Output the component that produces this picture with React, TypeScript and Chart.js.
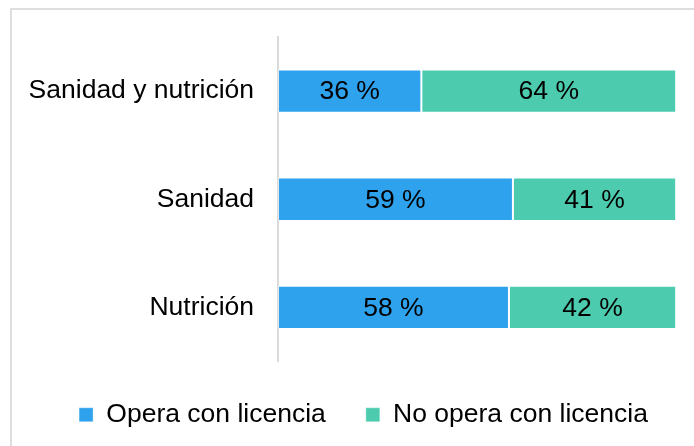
import React, { useEffect, useRef } from "react";
import { Chart, registerables } from "chart.js";

Chart.register(...registerables);

const categories = ["Sanidad y nutrición", "Sanidad", "Nutrición"];
const seriesNames = ["Opera con licencia", "No opera con licencia"];
const operaConLicencia = [36, 59, 58];
const noOperaConLicencia = [64, 41, 42];
const seriesColors = ["#2EA2ED", "#4DCBAE"];

const FONT = '"Liberation Sans", Arial, Helvetica, sans-serif';

const valueLabels = {
  id: "valueLabels",
  afterDatasetsDraw(chart: any) {
    const ctx = chart.ctx;
    ctx.save();
    ctx.font = `26.5px ${FONT}`;
    ctx.fillStyle = "#000000";
    ctx.textAlign = "center";
    ctx.textBaseline = "middle";
    chart.data.datasets.forEach((ds: any, di: number) => {
      const meta = chart.getDatasetMeta(di);
      meta.data.forEach((el: any, i: number) => {
        const p = el.getProps(["x", "y", "base"], true);
        const cx = (p.x + p.base) / 2;
        ctx.fillText(`${ds.data[i]} %`, cx, p.y + 1);
      });
    });
    ctx.restore();
  },
};

export default function App() {
  const ref = useRef<HTMLCanvasElement | null>(null);

  useEffect(() => {
    if (!ref.current) return;
    const chart = new Chart(ref.current, {
      type: "bar",
      data: {
        labels: categories,
        datasets: [
          {
            label: seriesNames[0],
            data: operaConLicencia,
            backgroundColor: seriesColors[0],
            borderColor: "rgba(255,255,255,0.35)",
            borderWidth: 1,
            borderSkipped: false,
            barPercentage: 0.4,
            categoryPercentage: 1,
          },
          {
            label: seriesNames[1],
            data: noOperaConLicencia,
            backgroundColor: seriesColors[1],
            borderColor: "rgba(255,255,255,0.35)",
            borderWidth: 1,
            borderSkipped: false,
            barPercentage: 0.4,
            categoryPercentage: 1,
          },
        ],
      },
      options: {
        indexAxis: "y",
        responsive: false,
        animation: false,
        devicePixelRatio: 1,
        layout: { padding: { top: 27, left: 0, right: 0, bottom: 0 } },
        scales: {
          x: {
            stacked: true,
            min: 0,
            max: 110,
            display: false,
          },
          y: {
            stacked: true,
            grid: {
              display: true,
              drawOnChartArea: false,
              drawTicks: true,
              tickLength: 24,
              tickColor: "rgba(0,0,0,0)",
            },
            border: { display: true, color: "#dadada", width: 2 },
            ticks: {
              color: "#000000",
              padding: 0,
              font: { family: FONT, size: 26.5 },
            },
            afterFit: (scale: any) => {
              scale.width = 267;
            },
          },
        },
        plugins: {
          legend: {
            position: "bottom",
            align: "center",
            labels: {
              boxWidth: 14,
              boxHeight: 14,
              padding: 40,
              color: "#000000",
              font: { family: FONT, size: 26.5 },
            },
          },
          tooltip: { enabled: false },
          title: { display: false },
        },
      },
      plugins: [valueLabels],
    } as any);
    return () => chart.destroy();
  }, []);

  return (
    <div
      style={{
        position: "fixed",
        left: 0,
        top: 0,
        width: 694,
        height: 446,
        overflow: "hidden",
        background: "#ffffff",
      }}
    >
      <div
        style={{
          position: "absolute",
          left: 10,
          top: 8,
          width: 900,
          height: 900,
          borderTop: "2px solid #dedede",
          borderLeft: "2px solid #dedede",
          boxSizing: "border-box",
        }}
      />
      <canvas
        ref={ref}
        width={705}
        height={428}
        style={{ position: "absolute", left: 11, top: 10, width: 705, height: 428 }}
      />
    </div>
  );
}
